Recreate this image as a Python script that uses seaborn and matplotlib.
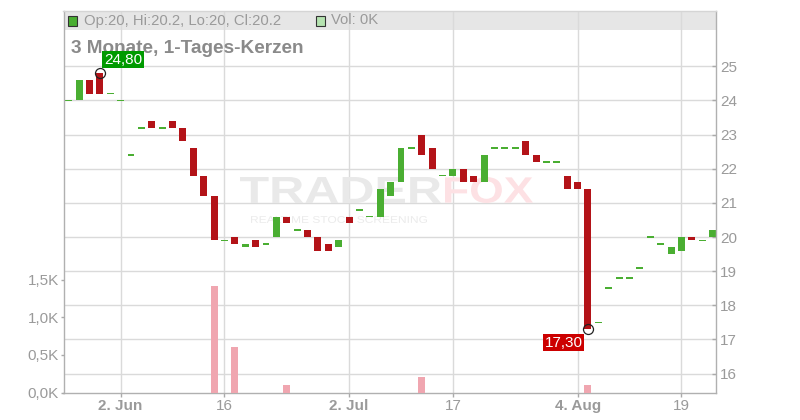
import numpy as np
import pandas as pd
import matplotlib
matplotlib.use("Agg")
import matplotlib.pyplot as plt
from matplotlib.patches import Rectangle, PathPatch
from matplotlib.textpath import TextPath
from matplotlib.font_manager import FontProperties
from matplotlib.transforms import Affine2D
from matplotlib.ticker import FuncFormatter
import seaborn as sns

# daily candles (trading day index 0..62)
opens = [24.0, 24.0, 24.6, 24.8, 24.2, 24.0, 22.4, 23.2, 23.4, 23.2,
         23.4, 23.2, 22.6, 21.8, 21.2, 19.9, 20.0, 19.7, 19.9, 19.8,
         20.0, 20.6, 20.2, 20.2, 20.0, 19.8, 19.7, 20.6, 20.8, 20.6,
         20.6, 21.2, 21.6, 22.6, 23.0, 22.6, 21.8, 21.8, 22.0, 21.8,
         21.6, 22.6, 22.6, 22.6, 22.8, 22.4, 22.2, 22.2, 21.8, 21.6,
         21.4, 17.5, 18.5, 18.8, 18.8, 19.1, 20.0, 19.8, 19.5, 19.6,
         20.0, 19.9, 20.0]
closes = [24.0, 24.6, 24.2, 24.2, 24.2, 24.0, 22.4, 23.2, 23.2, 23.2,
          23.2, 22.8, 21.8, 21.2, 19.9, 19.9, 19.8, 19.8, 19.7, 19.8,
          20.6, 20.4, 20.2, 20.0, 19.6, 19.6, 19.9, 20.4, 20.8, 20.6,
          21.4, 21.6, 22.6, 22.6, 22.4, 22.0, 21.8, 22.0, 21.6, 21.6,
          22.4, 22.6, 22.6, 22.6, 22.4, 22.2, 22.2, 22.2, 21.4, 21.4,
          17.3, 17.5, 18.5, 18.8, 18.8, 19.1, 20.0, 19.8, 19.7, 20.0,
          19.9, 19.9, 20.2]

# volume only on a few days
vol_days = [14, 16, 21, 34, 50]
vol_values = [1410, 610, 100, 210, 100]

hi_day, hi_val = 3, 24.80
lo_day, lo_val = 50, 17.30

tick_days = [5, 15, 27, 37, 49, 59]
tick_labels = ["2. Jun", "16", "2. Jul", "17", "4. Aug", "19"]
price_ticks = [16, 17, 18, 19, 20, 21, 22, 23, 24, 25]
vol_ticks = [0, 500, 1000, 1500]

GREEN = "#4aae32"
RED = "#b31318"
PINK = "#f0a6b0"
GRID = "#dadada"
LABEL = "#9a9a9a"

sns.set_theme(style="white")
plt.rcParams["font.family"] = ["Liberation Sans", "DejaVu Sans"]

W, H = 800, 420
fig = plt.figure(figsize=(W / 100, H / 100), dpi=100)
x0, x1, ytop, ybot = 63.5, 716, 11, 392.7
ax = fig.add_axes([x0 / W, 1 - ybot / H, (x1 - x0) / W, (ybot - ytop) / H])
ax_vol = ax.twinx()
ax.set_axisbelow(True)

def fig_xy(x, y):
    # pixel position from top-left -> figure fraction
    return x / W, 1 - y / H

# header band
band_h = 19 / (ybot - ytop)
ax.add_patch(Rectangle((0, 1 - band_h), 1, band_h, transform=ax.transAxes,
                       fc="#e6e6e6", ec="none", zorder=0.3))

# watermark
def watermark(text, left, right, top, bottom, color, weight):
    tp = TextPath((0, 0), text, size=40,
                  prop=FontProperties(family="Liberation Sans", weight=weight))
    ext = tp.get_extents()
    tr = (Affine2D().translate(-ext.x0, -ext.y0)
          .scale((right - left) / ext.width, (bottom - top) / ext.height)
          .translate(left, H - bottom).scale(1 / W, 1 / H) + fig.transFigure)
    ax.add_artist(PathPatch(tp, transform=tr, fc=color, ec="none", zorder=0.8))

watermark("TRADER", 240, 441, 177, 203, "#e9e9e9", "bold")
watermark("FOX", 445, 533, 177, 203, "#fde1e4", "bold")
watermark("REALTIME STOCK SCREENING", 251, 427, 216, 223, "#ebebeb", "normal")

# candles
days = np.arange(len(opens))
o = np.array(opens)
c = np.array(closes)
lo = np.minimum(o, c)
hi = np.maximum(o, c)
flat = (hi - lo) < 0.01
heights = np.where(flat, 0.05, hi - lo)
bottoms = np.where(flat, lo - 0.025, lo)
colors = np.where(c >= o, GREEN, RED)
ax.bar(days, heights, bottom=bottoms, width=0.67, color=colors,
       linewidth=0, zorder=2)

# high / low markers
ax.plot([hi_day, lo_day], [hi_val, lo_val], "o", ms=7.2, mfc="none",
        mec="#222222", mew=0.9, zorder=4)
fmt_price = lambda v: f"{v:.2f}".replace(".", ",")
ax.annotate(fmt_price(hi_val), (hi_day, hi_val), xytext=(4, 6.5),
            textcoords="offset pixels", ha="left", va="bottom",
            color="white", fontsize=11,
            bbox=dict(boxstyle="square,pad=0.1", fc="#009a00", ec="none"),
            zorder=5)
ax.annotate(fmt_price(lo_val), (lo_day, lo_val), xytext=(-5, -6.5),
            textcoords="offset pixels", ha="right", va="top",
            color="white", fontsize=11,
            bbox=dict(boxstyle="square,pad=0.1", fc="#cc0000", ec="none"),
            zorder=5)

# volume bars
volume = np.zeros(len(opens))
volume[vol_days] = vol_values
df_vol = pd.DataFrame({"day": days, "volume": volume})
sns.barplot(data=df_vol, x="day", y="volume", ax=ax_vol, native_scale=True,
            color=PINK, saturation=1, width=0.67, linewidth=0, errorbar=None)
ax_vol.set_xlabel("")
ax_vol.set_ylabel("")

# axes limits and ticks
ax.set_xlim(-0.5, 62.33)
ax.set_ylim(15.44, 26.62)
ax_vol.set_ylim(0, 5062)

ax.yaxis.tick_right()
ax.set_yticks(price_ticks)
ax.set_yticklabels([str(t) for t in price_ticks])
ax.tick_params(axis="y", right=True, left=False, direction="in", length=3,
               width=1, color="#aaaaaa", labelcolor=LABEL, labelsize=11, pad=3)

ax_vol.yaxis.tick_left()
ax_vol.set_yticks(vol_ticks)
ax_vol.yaxis.set_major_formatter(
    FuncFormatter(lambda v, _: f"{v / 1000:.1f}K".replace(".", ",")))
ax_vol.tick_params(axis="y", left=True, right=False, direction="out",
                   length=2.5, width=1, color="#aaaaaa", labelcolor=LABEL,
                   labelsize=11, pad=1)

ax.set_xticks(tick_days)
ax.set_xticklabels(tick_labels)
ax.tick_params(axis="x", bottom=True, direction="out", length=3, width=1,
               color="#aaaaaa", labelcolor=LABEL, labelsize=11, pad=1.5)
for lab in ax.get_xticklabels():
    if "." in lab.get_text():
        lab.set_fontweight("bold")

ax.grid(True, color=GRID, lw=1)
ax_vol.grid(False)

for name, sp in ax.spines.items():
    sp.set_visible(True)
    sp.set_color("#d5d5d5" if name == "top" else "#b0b0b0")
    sp.set_linewidth(1)
for sp in ax_vol.spines.values():
    sp.set_visible(False)

# header texts
fig.add_artist(Rectangle(fig_xy(68, 25.5), 9 / W, 9 / H, transform=fig.transFigure,
                         fc=GREEN, ec="#333333", lw=0.8))
fig.text(*fig_xy(84, 20.5), "Op:20, Hi:20.2, Lo:20, Cl:20.2", fontsize=10.7,
         color=LABEL, va="center", ha="left")
fig.add_artist(Rectangle(fig_xy(316, 25.5), 9 / W, 9 / H, transform=fig.transFigure,
                         fc="#b5e3b0", ec="#333333", lw=0.8))
fig.text(*fig_xy(331, 20.5), "Vol: 0K", fontsize=10.7, color=LABEL,
         va="center", ha="left")
ax.text(*fig_xy(71, 53), "3 Monate, 1-Tages-Kerzen", transform=fig.transFigure,
        fontsize=13.7, fontweight="bold", color="#8a8a8a", va="baseline",
        ha="left", zorder=1)

fig.savefig("out.png", dpi=100)
